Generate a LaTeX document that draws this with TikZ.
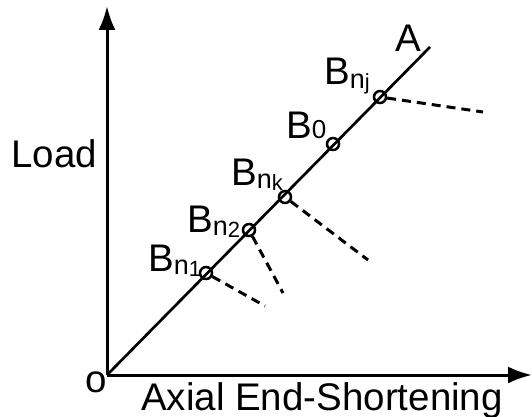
\documentclass[tikz,border=0pt]{standalone}
\usepackage{fontspec}
\setmainfont{Liberation Sans}
\usetikzlibrary{arrows.meta}
\newcommand{\Bsub}[1]{B\raisebox{-3pt}{\fontsize{27}{27}\selectfont n\raisebox{-2pt}{\fontsize{22}{22}\selectfont #1}}}

\begin{document}
\begin{tikzpicture}[x=1pt,y=-1pt,
  font=\fontsize{38.5}{40}\selectfont,
  ax/.style={line width=3pt,-{Latex[length=24pt,width=17pt]}},
  pt/.style={circle,draw,line width=2.5pt,minimum size=12pt,inner sep=0pt},
  ext/.style={line width=3pt,dash pattern=on 9pt off 6pt},
  lbl/.style={anchor=base west,inner sep=0pt}]
\useasboundingbox (0,0) rectangle (532,417);

% axes
\coordinate (O) at (107,375);
\coordinate (ytop) at (107,6);
\coordinate (xend) at (532,375);
\draw[ax] (O) -- (ytop);
\draw[ax] (O) -- (xend);

% loading path
\coordinate (A) at (430,47);
\draw[line width=2.7pt] (O) -- (A);

\node[pt] (b1) at (206,273) {};
\node[pt] (b2) at (249,230) {};
\node[pt] (bk) at (285,197) {};
\node[pt] (b0) at (333,144) {};
\node[pt] (bj) at (380,97) {};

% unloading branches
\coordinate (e1) at (265,306);
\coordinate (e2) at (283,293);
\coordinate (ek) at (368,260);
\coordinate (ej) at (483,112);
\draw[ext] (b1) -- (e1);
\draw[ext] (b2) -- (e2);
\draw[ext] (bk) -- (ek);
\draw[ext] (bj) -- (ej);

% labels
\node[lbl] (la) at (395,52) {A};
\node[lbl] (lj) at (324,85) {\Bsub{j}};
\node[lbl] (l0) at (286,139) {B{\fontsize{26}{26}\selectfont 0}};
\node[lbl] (lk) at (231,185) {\Bsub{k}};
\node[lbl] (l2) at (187,232) {\Bsub{2}};
\node[lbl] (l1) at (148,271) {\Bsub{1}};
\node[lbl] (lo) at (85,392) {o};
\node[lbl] (lload) at (11,167) {Load};
\node[lbl] (lx) at (141,410) {Axial End-Shortening};
\end{tikzpicture}
\end{document}
